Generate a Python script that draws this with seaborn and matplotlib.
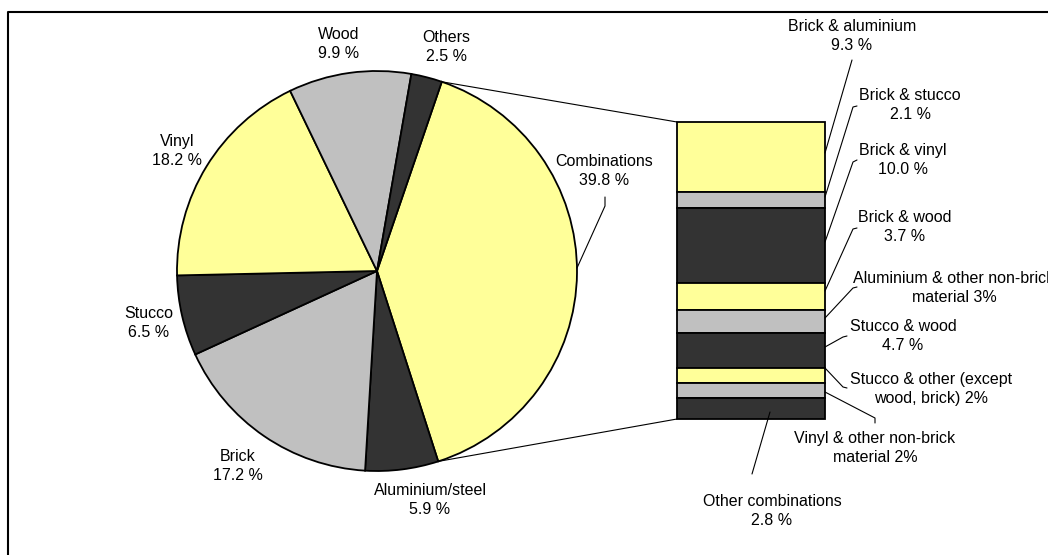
import matplotlib
matplotlib.use("Agg")
import matplotlib.pyplot as plt
import seaborn as sns
import numpy as np

# ── Data ──────────────────────────────────────────────────────────────────────
materials = ["Combinations", "Aluminium/steel", "Brick", "Stucco", "Vinyl", "Wood", "Others"]
shares = [39.8, 5.9, 17.2, 6.5, 18.2, 9.9, 2.5]

combos = [
    "Brick & aluminium", "Brick & stucco", "Brick & vinyl", "Brick & wood",
    "Aluminium & other non-brick material", "Stucco & wood",
    "Stucco & other (except wood, brick)", "Vinyl & other non-brick material",
    "Other combinations",
]
combo_shares = [9.3, 2.1, 10.0, 3.7, 3, 4.7, 2, 2, 2.8]
combo_labels = [
    "Brick & aluminium\n9.3 %", "Brick & stucco\n2.1 %", "Brick & vinyl\n10.0 %",
    "Brick & wood\n3.7 %", "Aluminium & other non-brick\nmaterial 3%",
    "Stucco & wood\n4.7 %", "Stucco & other (except\nwood, brick) 2%",
    "Vinyl & other non-brick\nmaterial 2%", "Other combinations\n2.8 %",
]

# ── Style ─────────────────────────────────────────────────────────────────────
YELLOW, GREY, DARK = "#FFFF99", "#C0C0C0", "#333333"
pie_colors = [YELLOW, DARK, GREY, DARK, YELLOW, GREY, DARK]
bar_colors = [YELLOW, GREY, DARK, YELLOW, GREY, DARK, YELLOW, GREY, DARK]

sns.set_theme(style="white")
plt.rcParams["font.family"] = ["Liberation Sans", "DejaVu Sans"]
FS = 11.5
LS = 1.3

W, H = 1048, 555
fig = plt.figure(figsize=(W / 100, H / 100), dpi=100)
ax = fig.add_axes([0, 0, 1, 1])


def P(x, y):
    # pixel coords (origin top-left) -> data coords
    return x, H - y


# ── Pie ───────────────────────────────────────────────────────────────────────
cx, cy = P(377, 271)
R = 200
start = 71.1
ax.pie(shares, colors=pie_colors, startangle=start, counterclock=False,
       center=(cx, cy), radius=R, frame=True,
       wedgeprops=dict(edgecolor="black", linewidth=1.3))

pie_label_pos = [(604, 171), (430, 500), (238, 466), (149, 323), (177, 151), (339, 44), (446, 47)]
for name, val, (x, y) in zip(materials, shares, pie_label_pos):
    ax.text(*P(x, y), f"{name}\n{val:.1f} %", ha="center", va="center",
            fontsize=FS, linespacing=LS, color="black")

# leader for Combinations
ax.plot(*zip(P(605, 197), P(605, 206), P(577, 268)), color="black", lw=0.8)

# ── Stacked column ────────────────────────────────────────────────────────────
bar_left, bar_right = 677, 825
bar_top, bar_bottom = 122, 419
scale = (bar_bottom - bar_top) / sum(combo_shares)
tops = bar_top + scale * np.concatenate([[0], np.cumsum(combo_shares)[:-1]])
for val, t, col in zip(combo_shares, tops, bar_colors):
    h = val * scale
    ax.bar((bar_left + bar_right) / 2, h, bottom=H - t - h, width=bar_right - bar_left,
           color=col, edgecolor="black", linewidth=1.3)

# connectors from pie to column
theta0 = np.deg2rad(start)
theta1 = np.deg2rad(start - shares[0] * 3.6)
ax.plot([cx + R * np.cos(theta0), bar_left], [cy + R * np.sin(theta0), H - bar_top],
        color="black", lw=0.8)
ax.plot([cx + R * np.cos(theta1), bar_left], [cy + R * np.sin(theta1), H - bar_bottom],
        color="black", lw=0.8)

combo_label_pos = [(852, 36), (910, 105), (903, 160), (905, 227), (954, 288),
                   (903, 336), (931, 389), (875, 448), (772, 511)]
leaders = [
    [(852, 60), (825, 153)],
    [(857, 106), (853, 107), (825, 197)],
    [(857, 160), (853, 162), (825, 242)],
    [(857, 228), (853, 229), (825, 291)],
    [(857, 287), (853, 288), (825, 318)],
    [(847, 336), (843, 337), (825, 347)],
    [(825, 368), (843, 387), (847, 388)],
    [(825, 392), (875, 418), (875, 423)],
    [(770, 412), (752, 474)],
]
for lab, (x, y), pts in zip(combo_labels, combo_label_pos, leaders):
    ax.text(*P(x, y), lab, ha="center", va="center", fontsize=FS,
            linespacing=LS, color="black")
    ax.plot(*zip(*[P(px, py) for px, py in pts]), color="black", lw=0.8)

# ── Frame (chart area border) ─────────────────────────────────────────────────
ax.plot(*zip(P(8, 555), P(8, 11.5), P(W, 11.5)), color="black", lw=1.5)

ax.set_xlim(0, W)
ax.set_ylim(0, H)
ax.set_aspect("auto")
ax.axis("off")

fig.savefig("out.png", dpi=100, facecolor="white")
